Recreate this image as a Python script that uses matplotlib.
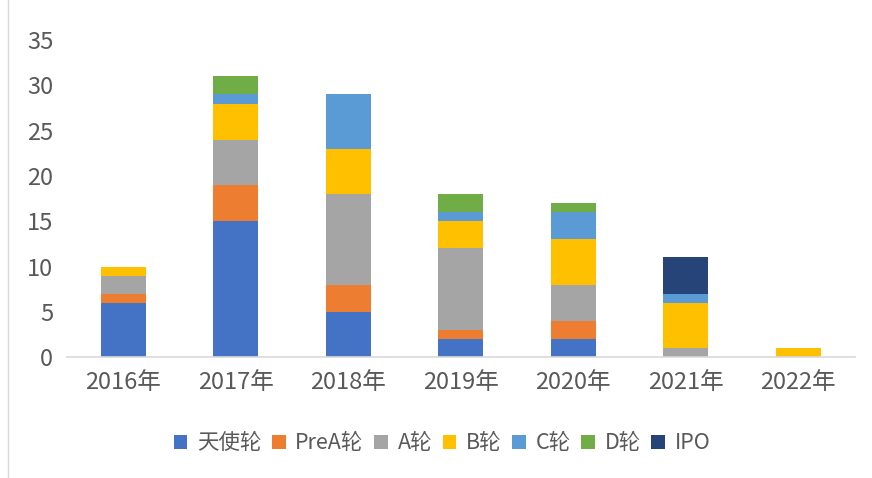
import numpy as np
import matplotlib.pyplot as plt

plt.rcParams['font.family'] = ['Noto Sans CJK SC', 'DejaVu Sans']

years = ['2016年', '2017年', '2018年', '2019年', '2020年', '2021年', '2022年']
series_names = ['天使轮', 'PreA轮', 'A轮', 'B轮', 'C轮', 'D轮', 'IPO']
angel = [6, 15, 5, 2, 2, 0, 0]
pre_a = [1, 4, 3, 1, 2, 0, 0]
round_a = [2, 5, 10, 9, 4, 1, 0]
round_b = [1, 4, 5, 3, 5, 5, 1]
round_c = [0, 1, 6, 1, 3, 1, 0]
round_d = [0, 2, 0, 2, 1, 0, 0]
ipo = [0, 0, 0, 0, 0, 4, 0]
colors = ['#4472C4', '#ED7D31', '#A5A5A5', '#FFC000', '#5B9BD5', '#70AD47', '#264478']

fig = plt.figure(figsize=(8.72, 4.78), dpi=100)
ax = fig.add_axes([0.077, 0.253, 0.903, 0.663])

x = np.arange(len(years))
bottom = np.zeros(len(years))
handles = []
for vals, name, c in zip([angel, pre_a, round_a, round_b, round_c, round_d, ipo], series_names, colors):
    vals = np.array(vals, dtype=float)
    b = ax.bar(x, vals, 0.4, bottom=bottom, color=c, label=name)
    handles.append(b)
    bottom += vals

ax.set_xlim(-0.5, len(years) - 0.5)
ax.set_ylim(0, 35)
ax.set_yticks(range(0, 36, 5))
ax.set_xticks(x)
ax.set_xticklabels(years)
for s in ['top', 'right', 'left']:
    ax.spines[s].set_visible(False)
ax.spines['bottom'].set_color('#D9D9D9')
ax.spines['bottom'].set_linewidth(1.2)
ax.tick_params(axis='both', length=0, labelsize=17, colors='#595959')
ax.tick_params(axis='y', pad=10)
ax.tick_params(axis='x', pad=10)

fig.legend(handles=handles, labels=series_names, loc='center', bbox_to_anchor=(0.507, 0.073),
           ncol=7, frameon=False, fontsize=15.5, handlelength=0.62, handleheight=0.62,
           handletextpad=0.45, columnspacing=0.5, labelcolor='#595959')

# thin frame line on the left edge of the picture
fig.add_artist(plt.Line2D([0.009, 0.009], [0, 1], color='#D9D9D9', lw=1))

plt.savefig('out.png')
